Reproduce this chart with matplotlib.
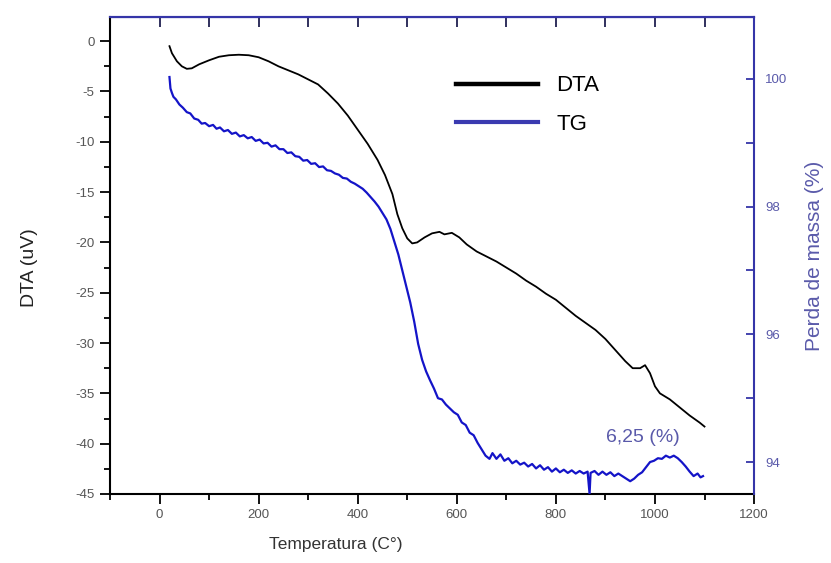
import matplotlib
matplotlib.use("Agg")
import matplotlib.pyplot as plt
from matplotlib.ticker import MultipleLocator

plt.rcParams["font.family"] = ["Liberation Sans", "DejaVu Sans"]
plt.rcParams["axes.unicode_minus"] = False

# DTA curve (uV) vs temperature (C)
dta_temp = [20, 25, 35, 45, 55, 65, 80, 100, 120, 140, 160, 180, 200, 220, 240,
            260, 280, 300, 320, 340, 360, 380, 400, 420, 440, 455, 470, 480, 490,
            500, 510, 520, 535, 550, 565, 575, 590, 605, 620, 640, 660, 680, 700,
            720, 740, 760, 780, 800, 820, 840, 860, 880, 900, 920, 940, 955, 970,
            980, 990, 1000, 1010, 1030, 1050, 1070, 1090, 1100]
dta_val = [-0.5, -1.2, -2.0, -2.5, -2.75, -2.7, -2.3, -1.9, -1.55, -1.4, -1.35,
           -1.4, -1.6, -2.0, -2.5, -2.9, -3.3, -3.8, -4.3, -5.2, -6.2, -7.4,
           -8.8, -10.2, -11.8, -13.3, -15.2, -17.2, -18.6, -19.6, -20.1, -20.0,
           -19.5, -19.1, -18.95, -19.2, -19.05, -19.5, -20.2, -20.9, -21.4, -21.9,
           -22.5, -23.1, -23.8, -24.4, -25.1, -25.7, -26.5, -27.3, -28.0, -28.7,
           -29.6, -30.7, -31.8, -32.5, -32.5, -32.2, -33.0, -34.3, -35.0, -35.6,
           -36.4, -37.2, -37.9, -38.3]

# TG curve (mass %) vs temperature (C)
tg_temp = [20, 22, 25, 28, 33, 40, 47, 55, 62, 70, 78, 85, 92, 100, 108, 115,
           122, 130, 138, 146, 154, 162, 170, 178, 186, 194, 202, 210, 218, 226,
           234, 242, 250, 258, 266, 274, 282, 290, 298, 306, 314, 322, 330, 338,
           346, 354, 362, 370, 378, 386, 394, 402, 410, 418, 426, 434, 442, 450,
           458, 466, 474, 482, 490, 498, 506, 514, 522, 530, 538, 546, 554, 562,
           570, 578, 586, 594, 602, 610, 618, 626, 634, 642, 650, 658, 666, 672,
           680, 688, 696, 704, 712, 720, 728, 736, 744, 752, 760, 768, 776, 784,
           792, 800, 808, 816, 824, 832, 840, 848, 856, 864, 868, 870, 878, 886,
           894, 902, 910, 918, 926, 934, 942, 950, 958, 966, 974, 982, 990, 998,
           1006, 1014, 1022, 1030, 1038, 1046, 1054, 1062, 1070, 1078, 1086,
           1092, 1097]
tg_val = [100.03, 99.85, 99.78, 99.72, 99.68, 99.6, 99.55, 99.48, 99.46, 99.38,
          99.36, 99.3, 99.31, 99.26, 99.28, 99.22, 99.24, 99.18, 99.2, 99.14,
          99.16, 99.1, 99.12, 99.07, 99.09, 99.03, 99.05, 98.99, 99.0, 98.94,
          98.96, 98.9, 98.9, 98.84, 98.85, 98.79, 98.78, 98.72, 98.73, 98.67,
          98.68, 98.62, 98.63, 98.57, 98.56, 98.52, 98.5, 98.45, 98.44, 98.39,
          98.36, 98.32, 98.28, 98.22, 98.15, 98.08, 98.0, 97.9, 97.8, 97.65,
          97.45, 97.25, 97.0, 96.75, 96.5, 96.2, 95.85, 95.6, 95.42, 95.28,
          95.15, 95.0, 94.98, 94.9, 94.84, 94.78, 94.74, 94.62, 94.58, 94.46,
          94.42, 94.3, 94.2, 94.1, 94.05, 94.14, 94.05, 94.12, 94.02, 94.06,
          93.98, 94.02, 93.96, 93.99, 93.93, 93.97, 93.9, 93.95, 93.88, 93.92,
          93.85, 93.9, 93.84, 93.88, 93.83, 93.87, 93.82, 93.86, 93.82, 93.85,
          93.5, 93.83, 93.86, 93.8, 93.85, 93.8, 93.84, 93.78, 93.82, 93.78,
          93.74, 93.7, 93.74, 93.8, 93.84, 93.92, 94.0, 94.02, 94.06, 94.05,
          94.1, 94.07, 94.1, 94.06, 94.0, 93.93, 93.85, 93.78, 93.82, 93.76,
          93.78]

mass_loss = tg_val[0] - tg_val[-1]

tick_grey = "#555555"
tg_blue = "#1414c8"
axis_blue = "#3535a8"
label_blue = "#5a5aaa"

fig = plt.figure(figsize=(8.31, 5.63), dpi=100)
ax = fig.add_axes([0.1324, 0.1226, 0.775, 0.8472])
ax2 = ax.twinx()

l1, = ax.plot(dta_temp, dta_val, color="black", lw=1.3, label="DTA")
l2, = ax2.plot(tg_temp, tg_val, color=tg_blue, lw=1.6, label="TG")

ax.set_xlim(-100, 1200)
ax.set_ylim(-45, 2.4)
ax2.set_ylim(93.5, 100.97)

ax.xaxis.set_major_locator(MultipleLocator(200))
ax.xaxis.set_minor_locator(MultipleLocator(100))
ax.yaxis.set_major_locator(MultipleLocator(5))
ax.yaxis.set_minor_locator(MultipleLocator(2.5))
ax2.yaxis.set_major_locator(MultipleLocator(2))
ax2.yaxis.set_minor_locator(MultipleLocator(1))

for s in ["left", "bottom"]:
    ax.spines[s].set_linewidth(1.5)
ax.spines["top"].set_color(axis_blue)
ax.spines["right"].set_visible(False)
for s in ["left", "bottom"]:
    ax2.spines[s].set_visible(False)
ax2.spines["top"].set_color(axis_blue)
ax2.spines["top"].set_linewidth(1.5)
ax2.spines["right"].set_color(axis_blue)
ax2.spines["right"].set_linewidth(1.5)

ax.tick_params(axis="both", which="major", direction="out", length=7, width=1.3,
               labelsize=9.5, labelcolor=tick_grey, pad=4)
ax.tick_params(axis="both", which="minor", direction="out", length=4, width=1.3)
ax2.tick_params(axis="y", which="major", direction="in", length=6, width=1.3,
                color=axis_blue, labelsize=9.5, labelcolor=label_blue, pad=8)
ax2.tick_params(axis="y", which="minor", direction="in", length=6, width=1.3,
                color=axis_blue)

# ticks along the top edge point inward
top = ax.secondary_xaxis("top")
top.xaxis.set_major_locator(MultipleLocator(200))
top.xaxis.set_minor_locator(MultipleLocator(100))
top.tick_params(which="both", direction="in", length=7, width=1.3,
                labeltop=False, color="#202050")
top.spines["top"].set_color(axis_blue)
top.spines["top"].set_linewidth(1.5)

ax.set_xlabel("Temperatura (C°)", fontsize=12.5, color="#333333")
ax.xaxis.set_label_coords(0.35, -0.09)
ax.set_ylabel("DTA (uV)", fontsize=14, color="#222222")
ax.yaxis.set_label_coords(-0.112, 0.474)
ax2.set_ylabel("Perda de massa (%)", fontsize=15, color=label_blue)
ax2.yaxis.set_label_coords(1.079, 0.5)

ax2.text(976, 94.39, f"{mass_loss:.2f} (%)".replace(".", ","), fontsize=14,
         color=label_blue, ha="center", va="center")

leg = ax.legend([l1, l2], ["DTA", "TG"], loc="upper left",
                bbox_to_anchor=(0.549, 0.866), bbox_transform=fig.transFigure,
                frameon=False, fontsize=16, handlelength=3.7, handletextpad=0.8,
                labelspacing=0.8, borderpad=0, borderaxespad=0)
leg.get_lines()[0].set_linewidth(3.2)
leg.get_lines()[1].set_linewidth(3.0)
leg.get_lines()[1].set_color("#3a3ab0")

fig.savefig("out.png", dpi=100)
